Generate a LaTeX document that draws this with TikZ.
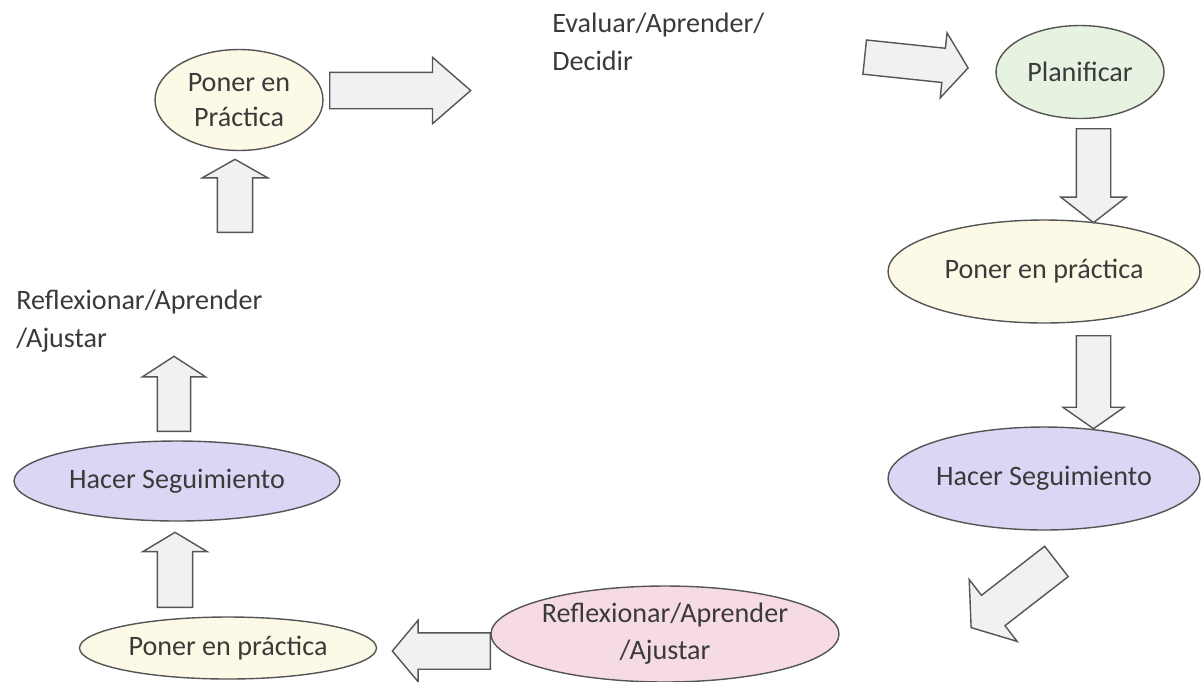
\documentclass[tikz,border=0pt]{standalone}
\usepackage{fontspec}
\setmainfont{Carlito}
\usetikzlibrary{shapes.geometric,shapes.arrows,positioning}
\definecolor{txt}{HTML}{3A3A3A}
\definecolor{borde}{HTML}{555555}
\definecolor{crema}{HTML}{FCFAE6}
\definecolor{verde}{HTML}{E6F3E1}
\definecolor{lila}{HTML}{DCD5F3}
\definecolor{rosa}{HTML}{F6DCE2}
\definecolor{gris}{HTML}{F1F1F3}

\tikzset{
  fase/.style={ellipse, draw=borde, line width=0.8pt, text=txt, align=center, inner sep=0pt},
  bloque/.style={single arrow, draw=borde, fill=gris, line width=0.8pt, inner xsep=0pt,
                 inner ysep=0.34cm, anchor=tail, single arrow head extend=0.3cm},
  nota/.style={text=txt, align=left, anchor=north west, inner sep=0pt,
               font=\fontsize{16}{21.5}\selectfont}
}

\begin{document}
\begin{tikzpicture}[x=0.02cm, y=-0.02cm, font=\fontsize{16}{19.5}\selectfont]
  \useasboundingbox (0,0) rectangle (1201,681);

  % fases
  \node (pone1) at (239,100) [fase, fill=crema, minimum width=3.36cm, minimum height=2.02cm] {Poner en\\Práctica};
  \node (plan) at (1080,72) [fase, fill=verde, minimum width=3.36cm, minimum height=1.86cm] {Planificar};
  \node (pone2) at (1044,271.5) [fase, fill=crema, minimum width=6.24cm, minimum height=2.06cm] {Poner en práctica};
  \node (segui2) at (1044,478.5) [fase, fill=lila, minimum width=6.24cm, minimum height=2.06cm] {Hacer Seguimiento};
  \node (refl) at (665,634) [fase, fill=rosa, minimum width=6.72cm, minimum height=1.92cm,
                             font=\fontsize{16}{21}\selectfont] {Reflexionar/Aprender\\/Ajustar};
  \node (pone3) at (228,648) [fase, fill=crema, minimum width=5.94cm, minimum height=1.24cm] {Poner en práctica};
  \node (segui1) at (177,481) [fase, fill=lila, minimum width=6.52cm, minimum height=1.6cm] {Hacer Seguimiento};

  % textos sueltos
  \node (eval) at (552,13) [nota] {Evaluar/Aprender/\\Decidir};
  \node (ajus) at (16,290) [nota] {Reflexionar/Aprender\\/Ajustar};

  % flechas de bloque
  \node (f1) at (329,90.5) [bloque, minimum height=2.82cm, inner ysep=0.35cm, single arrow tip angle=82] {};
  \node (f2) at (864,57) [bloque, rotate=-6, minimum height=2.08cm, inner ysep=0.33cm,
                          single arrow head extend=0.31cm, single arrow tip angle=106] {};
  \node (f3) at (1093.5,128) [bloque, rotate=-90, minimum height=1.88cm, inner ysep=0.33cm,
                              single arrow head extend=0.31cm, single arrow tip angle=104] {};
  \node (f4) at (1093.5,335) [bloque, rotate=-90, minimum height=1.86cm, inner ysep=0.33cm,
                              single arrow head extend=0.27cm, single arrow tip angle=110] {};
  \node (f5) at (1057,561) [bloque, rotate=217.8, minimum height=2.16cm, inner ysep=0.37cm,
                            single arrow head extend=0.4cm, single arrow tip angle=109] {};
  \node (f6) at (491,651) [bloque, rotate=180, minimum height=1.96cm, inner ysep=0.35cm,
                           single arrow head extend=0.25cm, single arrow tip angle=100] {};
  \node (f7) at (175,608) [bloque, rotate=90, minimum height=1.5cm, single arrow head extend=0.29cm,
                           single arrow tip angle=118] {};
  \node (f8) at (174,432) [bloque, rotate=90, minimum height=1.5cm, inner ysep=0.32cm,
                           single arrow tip angle=114] {};
  \node (f9) at (235,233) [bloque, rotate=90, minimum height=1.46cm, single arrow tip angle=121] {};
\end{tikzpicture}
\end{document}
